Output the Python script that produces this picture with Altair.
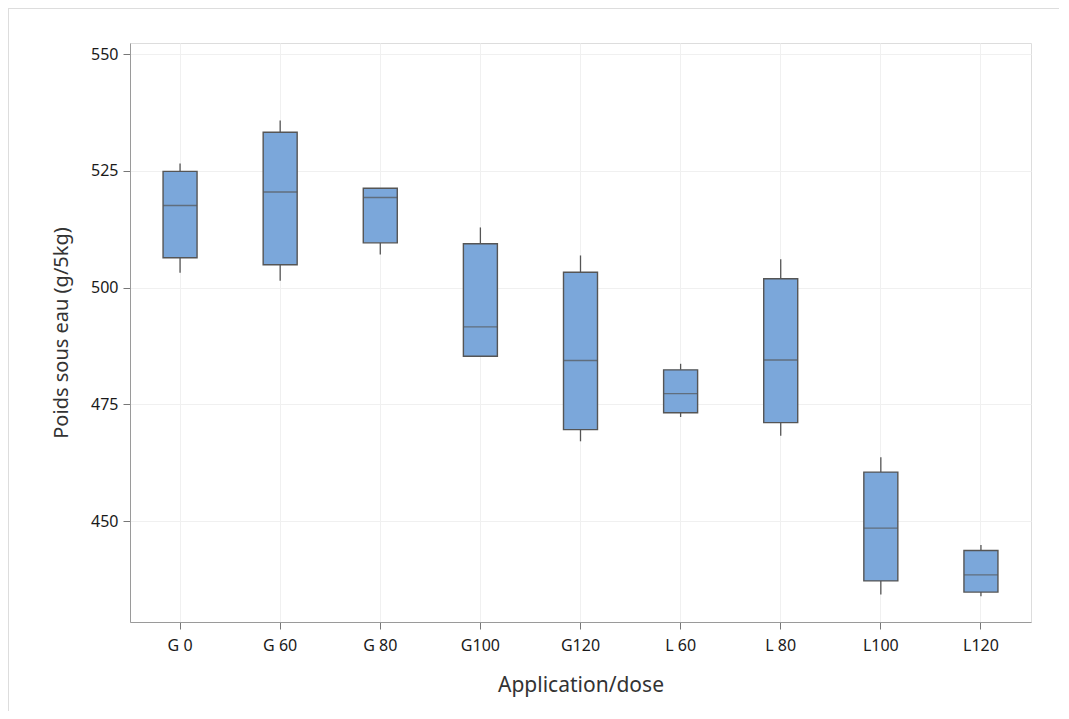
import altair as alt
import pandas as pd

groups = ["G 0", "G 60", "G 80", "G100", "G120", "L 60", "L 80", "L100", "L120"]
whisker_low = [503.2, 501.5, 507.1, 485.3, 467.1, 472.3, 468.3, 434.3, 433.9]
q1 = [506.4, 504.9, 509.6, 485.3, 469.6, 473.2, 471.1, 437.2, 434.8]
median = [517.6, 520.5, 519.3, 491.6, 484.4, 477.3, 484.5, 448.5, 438.5]
q3 = [524.9, 533.3, 521.3, 509.4, 503.3, 482.4, 501.9, 460.5, 443.7]
whisker_high = [526.6, 535.8, 521.3, 512.9, 506.9, 483.7, 506.1, 463.7, 444.9]
y_ticks = [450, 475, 500, 525, 550]

df = pd.DataFrame({
    "group": groups, "lo": whisker_low, "q1": q1, "med": median,
    "q3": q3, "hi": whisker_high,
})

FONT = "Noto Sans"
x_enc = alt.X("group:N", sort=groups, title="Application/dose",
              scale=alt.Scale(paddingInner=0, paddingOuter=0),
              axis=alt.Axis(labelAngle=0, grid=True, gridColor="#f0f0f0",
                            domainColor="#9a9a9a", tickColor="#777777",
                            tickSize=7, labelPadding=8, labelFontSize=16,
                            labelColor="#1a1a1a", titleFontSize=21,
                            titleFontWeight="normal", titleColor="#333333",
                            titlePadding=21, labelFont=FONT, titleFont=FONT))
y_scale = alt.Scale(domain=[428.4, 552.4], nice=False, zero=False)
y_axis = alt.Axis(values=y_ticks, grid=True, gridColor="#f0f0f0",
                  domainColor="#9a9a9a", tickColor="#777777", tickSize=7,
                  labelPadding=5, labelFontSize=16, labelColor="#1a1a1a",
                  titleFontSize=20, titleFontWeight="normal",
                  titleColor="#333333", titlePadding=19,
                  labelFont=FONT, titleFont=FONT)

base = alt.Chart(df)

whisk_hi = base.mark_rule(color="#555555", strokeWidth=1.3).encode(
    x=x_enc,
    y=alt.Y("q3:Q", scale=y_scale, axis=y_axis, title="Poids sous eau (g/5kg)"),
    y2="hi:Q",
)
whisk_lo = base.mark_rule(color="#555555", strokeWidth=1.3).encode(
    x=alt.X("group:N", sort=groups),
    y=alt.Y("lo:Q"),
    y2="q1:Q",
)
box = base.mark_bar(size=34, color="#7BA7DA", stroke="#555555",
                    strokeWidth=1.4).encode(
    x=alt.X("group:N", sort=groups),
    y=alt.Y("q1:Q"),
    y2="q3:Q",
)
med = base.mark_tick(size=34, thickness=1.4, color="#555555").encode(
    x=alt.X("group:N", sort=groups),
    y=alt.Y("med:Q"),
)

top_border = alt.Chart(df).mark_rule(color="#dddddd", strokeWidth=1.5).encode(
    x=alt.value(-122), x2=alt.value(960), y=alt.value(-35))
left_border = alt.Chart(df).mark_rule(color="#dddddd", strokeWidth=1.5).encode(
    x=alt.value(-122), y=alt.value(-35), y2=alt.value(700))

chart = alt.layer(whisk_hi, whisk_lo, box, med, top_border, left_border).properties(
    width=901, height=579,
    autosize=alt.AutoSizeParams(type="none"),
    padding={"left": 122, "top": 35, "right": 28, "bottom": 89},
).configure_view(stroke="#9a9a9a", strokeWidth=1.3).configure(
    background="white"
)

chart.save("out.html", embed_options={"renderer": "svg", "actions": False})
